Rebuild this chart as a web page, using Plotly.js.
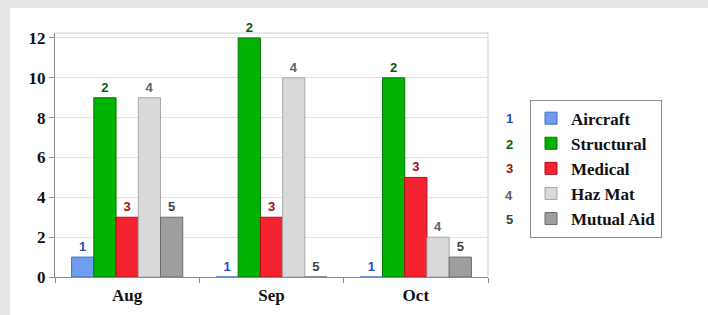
<!DOCTYPE html>
<html><head><meta charset="utf-8">
<script src="https://cdn.plot.ly/plotly-3.0.1.min.js"></script>
<style>
html,body{margin:0;padding:0;background:#e4e5e7;width:708px;height:315px;overflow:hidden}
#chart{position:absolute;left:10px;top:8px;width:698px;height:307px;background:#fff}
</style></head><body>
<div id="chart"></div>
<script>
var months = ["Aug", "Sep", "Oct"];
var seriesNames = ["Aircraft", "Structural", "Medical", "Haz Mat", "Mutual Aid"];
var seriesLabels = ["1", "2", "3", "4", "5"];
var aircraft = [1, 0, 0];
var structural = [9, 12, 10];
var medical = [3, 3, 5];
var hazMat = [9, 10, 2];
var mutualAid = [3, 0, 1];
var yTicks = [0, 2, 4, 6, 8, 10, 12];

var values = [aircraft, structural, medical, hazMat, mutualAid];
var colors = ["#6f9df2", "#00b300", "#f5222f", "#d9d9d9", "#9e9e9e"];
var edgeColors = ["#3f6fc8", "#007a00", "#b0101a", "#a8a8a8", "#6a6a6a"];
var labelColors = ["#1f4fbf", "#0a5a0a", "#9a1010", "#606060", "#404040"];

var serif = "Liberation Serif, Times New Roman, serif";
var traces = values.map(function (v, i) {
  return {
    type: "bar",
    name: seriesNames[i],
    x: months,
    y: v,
    text: v.map(function () { return seriesLabels[i]; }),
    textposition: "outside",
    textfont: {family: "Liberation Sans, Arial, sans-serif", size: 13, color: labelColors[i], weight: "bold"},
    cliponaxis: false,
    marker: {color: colors[i], line: {color: edgeColors[i], width: 1}},
    hoverinfo: "x+y+name"
  };
});

var annotations = seriesLabels.map(function (s, i) {
  return {
    xref: "paper", yref: "paper",
    x: 1.063, y: [0.648, 0.545, 0.443, 0.336, 0.234][i],
    yanchor: "middle",
    text: "<b>" + s + "</b>", showarrow: false,
    font: {family: "Liberation Sans, Arial, sans-serif", size: 13, color: labelColors[i]}
  };
});

var layout = {
  width: 698, height: 307,
  margin: {l: 45, r: 220, t: 25, b: 38},
  paper_bgcolor: "#ffffff",
  plot_bgcolor: "#ffffff",
  barmode: "group",
  bargap: 0.23,
  bargroupgap: 0,
  showlegend: true,
  legend: {
    x: 1.097, y: 0.727, xanchor: "left", yanchor: "top",
    bordercolor: "#8c8c8c", borderwidth: 1,
    font: {family: serif, size: 17, color: "#111", weight: "bold"},
    traceorder: "normal",
    itemwidth: 30
  },
  xaxis: {
    type: "category",
    tickfont: {family: serif, size: 17, color: "#111", weight: "bold"},
    showline: true, linecolor: "#8c8c8c",
    ticks: "outside", tickson: "boundaries", ticklen: 5, tickcolor: "#8c8c8c",
    ticklabelstandoff: 3,
    showgrid: false
  },
  yaxis: {
    range: [0, 12.25],
    tickvals: yTicks,
    tickfont: {family: serif, size: 17, color: "#111", weight: "bold"},
    showline: true, linecolor: "#8c8c8c",
    ticks: "outside", ticklen: 5, tickcolor: "#8c8c8c",
    gridcolor: "#e2e2e2", zeroline: false
  },
  shapes: [
    {type: "line", xref: "paper", yref: "paper", x0: 1, x1: 1, y0: 0, y1: 1, line: {color: "#d0d0d0", width: 1}},
    {type: "line", xref: "paper", yref: "paper", x0: 0, x1: 1, y0: 1, y1: 1, line: {color: "#d0d0d0", width: 1}}
  ],
  annotations: annotations
};

Plotly.newPlot("chart", traces, layout, {displayModeBar: false, staticPlot: true});
</script>
</body></html>
